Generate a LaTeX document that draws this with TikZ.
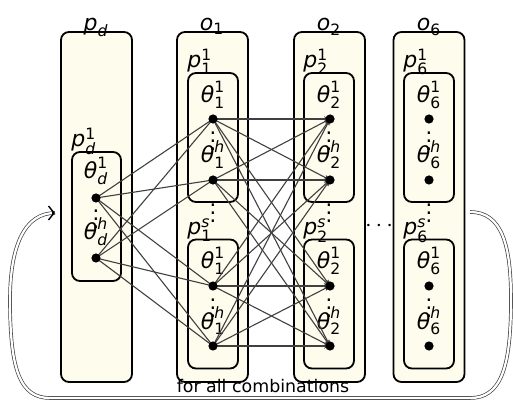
\documentclass[tikz,border=0pt]{standalone}
\usepackage{fontspec}
\setmainfont{DejaVu Sans}
\usetikzlibrary{arrows.meta,calc}
\definecolor{cream}{RGB}{254,252,236}
\newcommand{\scr}[1]{\mbox{\fontsize{7.8}{8}\selectfont #1}}
\newcommand{\two}[3]{$\mbox{\itshape #1}^{\scr{#3}}_{\scr{#2}}$}
\newcommand{\one}[2]{$\mbox{\itshape #1}_{\scr{#2}}$}
\tikzset{
 obox/.style={draw, line width=0.9pt, fill=cream, rounded corners=4pt, minimum width=35.5pt, minimum height=175pt, inner sep=0pt, outer sep=0pt},
 ibox/.style={draw, line width=0.9pt, fill=cream, rounded corners=4pt, minimum width=25pt, minimum height=64.5pt, inner sep=0pt, outer sep=0pt},
 lab/.style={font=\fontsize{11}{12}\selectfont, inner sep=0pt, anchor=base},
 plab/.style={font=\fontsize{11}{12}\selectfont, inner sep=0pt, anchor=base west},
 dotn/.style={circle, fill=black, minimum size=4.6pt, inner sep=0pt},
 link/.style={black!75, line width=0.55pt},
 linka/.style={link, -{Stealth[length=3pt,width=2.6pt]}},
 vd/.style={inner sep=0pt, font=\fontsize{10.5}{12}\selectfont},
 loopline/.style={draw=black!75, line width=0.35pt, double=white, double distance=1.1pt},
}
\begin{document}
\begin{tikzpicture}[x=0.5pt,y=-0.5pt]
\useasboundingbox (0,0) rectangle (513,400);
% outer boxes
\node[obox] (pd) at (96.5,207) {};
\node[obox] (o1) at (212.5,207) {};
\node[obox] (o2) at (329.5,207) {};
\node[obox] (o6) at (429,207) {};
% outer labels
\node[lab] (lpd) at (96,31) {\one{p}{\itshape d}};
\node[lab] (lo1) at (212,31) {\one{o}{1}};
\node[lab] (lo2) at (329,31) {\one{o}{2}};
\node[lab] (lo6) at (429,31) {\one{o}{6}};
% vdots between inner boxes
\node[vd] (v1) at (213,207) {$\vdots$};
\node[vd] (v2) at (329,207) {$\vdots$};
\node[vd] (v6) at (429,207) {$\vdots$};
% inner boxes
\node[ibox, minimum width=24.5pt] (ipd) at (96.5,216.5) {};
\node[ibox] (i1a) at (213,137.5) {};
\node[ibox] (i1b) at (213,304) {};
\node[ibox] (i2a) at (329,137.5) {};
\node[ibox] (i2b) at (329,304) {};
\node[ibox] (i6a) at (429,137.5) {};
\node[ibox] (i6b) at (429,304) {};
% inner box labels
\node[plab] (lpd1) at (71,147) {\two{p}{\itshape d}{1}};
\node[plab] (lp11) at (187,68) {\two{p}{1}{1}};
\node[plab] (lp1s) at (187,235) {\two{p}{1}{\itshape s}};
\node[plab] (lp21) at (303,68) {\two{p}{2}{1}};
\node[plab] (lp2s) at (303,235) {\two{p}{2}{\itshape s}};
\node[plab] (lp61) at (403,68) {\two{p}{6}{1}};
\node[plab] (lp6s) at (403,235) {\two{p}{6}{\itshape s}};
% theta labels
\node[lab] (tdd1) at (96,179) {\two{θ}{\itshape d}{1}};
\node[lab] (tddh) at (96,240) {\two{θ}{\itshape d}{\itshape h}};
\node[vd] (vdd) at (96,213) {$\vdots$};
\foreach \c/\n in {213/1,329/2,429/6}{
  \node[lab] (t\n a1) at (\c,103) {\two{θ}{\n}{1}};
  \node[lab] (t\n ah) at (\c,163) {\two{θ}{\n}{\itshape h}};
  \node[vd] (vv\n a) at (\c,135) {$\vdots$};
  \node[lab] (t\n b1) at (\c,269) {\two{θ}{\n}{1}};
  \node[lab] (t\n bh) at (\c,329) {\two{θ}{\n}{\itshape h}};
  \node[vd] (vv\n b) at (\c,302) {$\vdots$};
}
% dot positions
\coordinate (d1) at (96,198);
\coordinate (d2) at (96,258);
\coordinate (a1) at (213,119);
\coordinate (a2) at (213,180);
\coordinate (a3) at (213,286);
\coordinate (a4) at (213,346);
\coordinate (b1) at (330,119);
\coordinate (b2) at (330,180);
\coordinate (b3) at (330,286);
\coordinate (b4) at (330,346);
\coordinate (c1) at (429,119);
\coordinate (c2) at (429,180);
\coordinate (c3) at (429,286);
\coordinate (c4) at (429,346);
% links
\foreach \s in {d1,d2}{\foreach \t in {a1,a2,a3,a4}{\draw[link] (\s) -- (\t);}}
\foreach \s in {a1,a2,a3,a4}{\foreach \t in {b1,b2,b3,b4}{\draw[linka] (\s) -- (\t);}}
% dots
\foreach \p in {d1,d2,a1,a2,a3,a4,b1,b2,b3,b4,c1,c2,c3,c4}{\node[dotn] (n\p) at (\p) {};}
% horizontal dots
\node[vd, font=\fontsize{12}{14}\selectfont] (hd) at (379,226) {$\cdots$};
% loop
\coordinate (cs) at (470,212);
\coordinate (ce) at (55,213);
\coordinate (cb) at (52,213);
\draw[loopline] (cs) .. controls (502,212) and (511,245) .. (511,300)
  .. controls (511,370) and (500,398) .. (470,398) -- (50,398)
  .. controls (20,398) and (10,370) .. (10,300)
  .. controls (10,245) and (25,213) .. (ce);
\draw[black, line width=0.7pt, -{Straight Barb[length=2.8pt,width=7pt]}] (cb) -- (ce);
\node[font=\fontsize{8.7}{10}\selectfont, inner sep=0pt] (fac) at (263,386) {for all combinations};
\end{tikzpicture}
\end{document}
